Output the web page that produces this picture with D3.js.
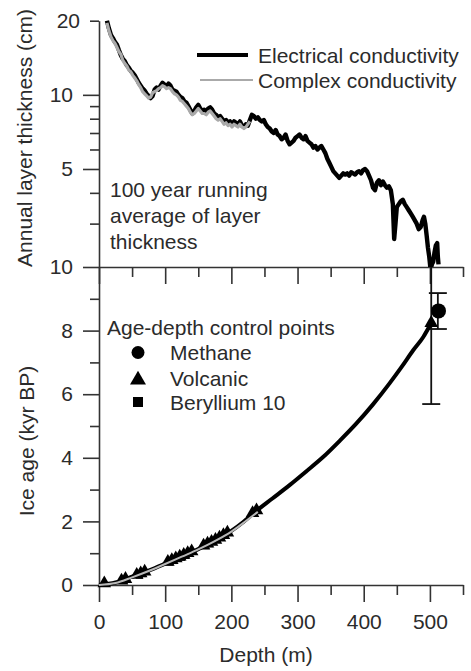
<!DOCTYPE html>
<html>
<head>
<meta charset="utf-8">
<script src="https://cdn.jsdelivr.net/npm/d3@7"></script>
<style>
    body { margin: 0; background: #fff; }
    text { font-family: Arial, "Liberation Sans", sans-serif; fill: #2b2b2b; }
</style>
</head>
<body>
<svg id="main-svg" width="471" height="671"></svg>
<script>
// 100 year running average of layer thickness, [depth m, thickness cm]
let EC_THICKNESS = [
    [12, 20], [15, 18.6], [18, 17.5], [21, 17], [24, 16.4], [27, 16], [30, 15.2], [33, 14.5],
    [36, 14], [39, 13.7], [42, 13.2], [45, 12.9], [48, 12.5], [51, 12.3], [54, 12], [57, 11.6],
    [60, 11.2], [63, 10.9], [66, 10.6], [69, 10.4], [72, 10.1], [75, 9.9], [78, 9.7], [81, 9.9],
    [84, 10.5], [87, 10.7], [90, 10.5], [93, 10.9], [96, 11.2], [99, 11], [102, 10.8], [105, 11.1],
    [108, 10.9], [111, 10.5], [114, 10.4], [117, 10.3], [120, 10], [123, 9.8], [126, 9.7], [129, 9.4],
    [132, 9.3], [135, 9.0], [138, 8.7], [141, 8.4], [144, 8.6], [147, 8.9], [150, 9.1], [153, 8.8],
    [156, 8.6], [159, 8.7], [162, 8.5], [165, 8.8], [168, 8.9], [171, 8.7], [174, 8.4], [177, 8.3],
    [180, 8.1], [183, 8.2], [186, 8.0], [189, 7.8], [192, 7.9], [195, 7.7], [198, 7.8], [201, 7.6],
    [204, 7.8], [207, 7.7], [210, 7.6], [213, 7.8], [216, 7.5], [219, 7.4], [222, 7.6], [225, 7.5],
    [228, 7.9], [231, 8.3], [234, 8.2], [237, 8.0], [240, 8.1], [243, 7.9], [246, 7.8], [249, 7.9],
    [252, 7.6], [255, 7.4], [258, 7.3], [261, 7.1], [264, 7.0], [267, 7.2], [270, 6.9], [273, 6.8],
    [276, 6.6], [279, 6.7], [282, 6.9], [285, 6.5], [288, 6.3], [291, 6.4], [294, 6.5], [297, 6.7],
    [300, 6.8], [303, 6.9], [306, 6.7], [309, 6.6], [312, 6.8], [315, 6.5], [318, 6.4], [321, 6.3],
    [324, 6.1], [327, 6.2], [330, 6.0], [333, 6.1], [336, 6.2], [339, 6.0], [342, 5.8], [345, 5.5],
    [348, 5.3], [351, 5.1], [354, 4.9], [357, 4.8], [360, 4.7], [363, 4.6], [366, 4.7], [369, 4.8],
    [372, 4.75], [375, 4.8], [378, 4.7], [381, 4.85], [384, 4.8], [387, 4.75], [390, 4.85], [393, 4.9],
    [396, 4.8], [399, 4.95], [402, 5.0], [405, 4.9], [408, 4.7], [411, 4.5], [414, 4.2], [417, 4.1],
    [420, 4.4], [423, 4.5], [426, 4.3], [429, 4.45], [432, 4.3], [435, 4.2], [438, 4.25], [441, 4.1],
    [444, 3.6], [446, 2.6], [448, 3.0], [450, 3.5], [453, 3.6], [456, 3.7], [459, 3.75], [462, 3.6],
    [465, 3.5], [468, 3.4], [471, 3.3], [474, 3.2], [477, 3.1], [480, 3.0], [483, 2.85], [486, 2.9],
    [489, 3.1], [491, 3.2], [493, 3.0], [495, 2.7], [497, 2.4], [499, 2.2], [501, 1.95], [503, 2.05],
    [505, 2.1], [507, 2.3], [509, 2.45], [511, 2.5], [512, 2.2], [513, 2.05]
];

let CC_THICKNESS = [
    [12, 19.6], [15, 18.2], [18, 17.2], [21, 16.6], [24, 16.2], [27, 15.6], [30, 15.0], [33, 14.6],
    [36, 13.8], [39, 13.4], [42, 13.1], [45, 12.6], [48, 12.4], [51, 12.0], [54, 11.7], [57, 11.4],
    [60, 11.0], [63, 10.7], [66, 10.3], [69, 10.1], [72, 9.9], [75, 9.7], [78, 9.8], [81, 10.2],
    [84, 10.3], [87, 10.4], [90, 10.6], [93, 10.7], [96, 10.9], [99, 10.8], [102, 10.6], [105, 10.7],
    [108, 10.6], [111, 10.3], [114, 10.1], [117, 10.0], [120, 9.8], [123, 9.5], [126, 9.4], [129, 9.2],
    [132, 9.0], [135, 8.8], [138, 8.5], [141, 8.3], [144, 8.4], [147, 8.6], [150, 8.8], [153, 8.6],
    [156, 8.4], [159, 8.4], [162, 8.3], [165, 8.5], [168, 8.6], [171, 8.4], [174, 8.2], [177, 8.0],
    [180, 7.9], [183, 8.0], [186, 7.8], [189, 7.6], [192, 7.7], [195, 7.5], [198, 7.6], [201, 7.4],
    [204, 7.6], [207, 7.5], [210, 7.4], [213, 7.6], [216, 7.4], [219, 7.3], [222, 7.4], [225, 7.6],
    [228, 7.8]
];

// age-depth curves, [depth m, age kyr BP]
let EC_AGE = [
    [0, 0], [25, 0.08], [50, 0.26], [75, 0.45], [100, 0.67], [125, 0.9], [150, 1.13], [175, 1.39],
    [200, 1.7], [218, 1.98], [236, 2.3], [262, 2.72], [288, 3.14], [313, 3.57], [339, 4.03],
    [364, 4.54], [389, 5.08], [414, 5.68], [439, 6.34], [457, 6.85], [475, 7.39], [490, 7.8], [502, 8.24]
];
let CC_AGE = [
    [0, 0], [25, 0.06], [50, 0.24], [75, 0.44], [100, 0.66], [125, 0.89], [150, 1.12], [175, 1.38],
    [200, 1.68], [220, 1.98], [240, 2.3]
];

// control points
let VOLCANIC = [
    [8, 0.05], [34, 0.14], [40, 0.19], [57, 0.32], [63, 0.37], [69, 0.42], [104, 0.73], [110, 0.78],
    [116, 0.84], [122, 0.89], [128, 0.95], [134, 1.0], [140, 1.06], [158, 1.24], [164, 1.3],
    [170, 1.36], [176, 1.42], [182, 1.49], [188, 1.57], [194, 1.65], [232, 2.26], [238, 2.35], [502, 8.24]
];
let VOLCANIC_ERROR = [[502, 5.69, 10]];   // depth, low, high
let BERYLLIUM = [
    [38, 0.15], [61, 0.31], [66, 0.36], [107, 0.72], [113, 0.77], [125, 0.87], [131, 0.93],
    [161, 1.24], [167, 1.3], [179, 1.43], [185, 1.5], [191, 1.58], [235, 2.27]
];
let METHANE = [[513, 8.62]];
let METHANE_ERROR = [[512, 8.05, 9.18]];

let DEPTH_MAJOR = [0, 100, 200, 300, 400, 500];
let DEPTH_MINOR = [50, 150, 250, 350, 450, 550];
let THICK_MAJOR = [10, 5];
let THICK_MINOR = [9, 8, 7, 6, 4, 3];
let AGE_MAJOR = [0, 2, 4, 6, 8, 10];
let AGE_MINOR = [1, 3, 5, 7, 9];

let AXIS_COLOR = '#333';
let FONT_SIZE = 21;

let svg = d3.select('#main-svg');

let x = d3.scaleLinear().domain([0, 550]).range([99, 463]);
let yTop = d3.scaleLog().domain([2, 20]).range([267, 20.7]);
let yBot = d3.scaleLinear().domain([0, 10]).range([585, 267]);

// clip for the top panel
svg.append('clipPath').attr('id', 'clip-top')
    .append('rect').attr('x', 99).attr('y', 0).attr('width', 370).attr('height', 267);

function styleAxis(g, labels) {
    g.selectAll('line').attr('stroke', AXIS_COLOR).attr('stroke-width', 1.6);
    g.selectAll('.domain').attr('stroke', AXIS_COLOR).attr('stroke-width', 1.6);
    g.selectAll('text').attr('font-size', FONT_SIZE).attr('fill', '#2b2b2b');
    if (!labels) g.selectAll('text').remove();
}

// top panel axes
svg.append('g').attr('transform', 'translate(99,0)')
    .call(d3.axisLeft(yTop).tickValues(THICK_MAJOR).tickSize(16).tickSizeOuter(0).tickPadding(10).tickFormat(d3.format('d')))
    .call(g => styleAxis(g, true));
svg.append('g').attr('transform', 'translate(99,0)')
    .call(d3.axisLeft(yTop).tickValues([20]).tickSize(9).tickSizeOuter(0).tickPadding(10).tickFormat(d3.format('d')))
    .call(g => g.select('.domain').remove())
    .call(g => styleAxis(g, true));
svg.append('g').attr('transform', 'translate(99,0)')
    .call(d3.axisLeft(yTop).tickValues(THICK_MINOR).tickSize(9))
    .call(g => g.select('.domain').remove())
    .call(g => styleAxis(g, false));
svg.append('g').attr('transform', 'translate(0,267)')
    .call(d3.axisBottom(x).tickValues(DEPTH_MAJOR).tickSize(17).tickSizeOuter(0))
    .call(g => styleAxis(g, false));
svg.append('g').attr('transform', 'translate(0,267)')
    .call(d3.axisBottom(x).tickValues(DEPTH_MINOR).tickSize(10))
    .call(g => g.select('.domain').remove())
    .call(g => styleAxis(g, false));

// bottom panel axes
svg.append('g').attr('transform', 'translate(99,0)')
    .call(d3.axisLeft(yBot).tickValues(AGE_MAJOR).tickSize(16).tickSizeOuter(0).tickPadding(10).tickFormat(d3.format('d')))
    .call(g => styleAxis(g, true));
svg.append('g').attr('transform', 'translate(99,0)')
    .call(d3.axisLeft(yBot).tickValues(AGE_MINOR).tickSize(9))
    .call(g => g.select('.domain').remove())
    .call(g => styleAxis(g, false));
svg.append('g').attr('transform', 'translate(0,585)')
    .call(d3.axisBottom(x).tickValues(DEPTH_MAJOR).tickSize(17).tickSizeOuter(0).tickPadding(12).tickFormat(d3.format('d')))
    .call(g => styleAxis(g, true));
svg.append('g').attr('transform', 'translate(0,585)')
    .call(d3.axisBottom(x).tickValues(DEPTH_MINOR).tickSize(10))
    .call(g => g.select('.domain').remove())
    .call(g => styleAxis(g, false));

// axis titles
svg.append('text').attr('transform', 'translate(32,138) rotate(-90)')
    .attr('text-anchor', 'middle').attr('font-size', FONT_SIZE).text('Annual layer thickness (cm)');
svg.append('text').attr('transform', 'translate(34,441) rotate(-90)')
    .attr('text-anchor', 'middle').attr('font-size', FONT_SIZE).text('Ice age (kyr BP)');
svg.append('text').attr('x', 266).attr('y', 662)
    .attr('text-anchor', 'middle').attr('font-size', FONT_SIZE).text('Depth (m)');

// top panel lines
let topLine = d3.line().x(d => x(d[0])).y(d => yTop(d[1]));
let topPanel = svg.append('g').attr('clip-path', 'url(#clip-top)');
topPanel.append('path').datum(EC_THICKNESS).attr('d', topLine)
    .attr('fill', 'none').attr('stroke', '#000').attr('stroke-width', 4.4).attr('stroke-linejoin', 'round');
topPanel.append('path').datum(CC_THICKNESS).attr('d', topLine)
    .attr('fill', 'none').attr('stroke', '#a9a9a9').attr('stroke-width', 3.2).attr('stroke-linejoin', 'round');

// bottom panel: error bars
let errors = VOLCANIC_ERROR.concat(METHANE_ERROR);
errors.forEach(e => {
    let cx = x(e[0]);
    svg.append('line').attr('x1', cx).attr('x2', cx).attr('y1', yBot(e[1])).attr('y2', yBot(e[2]))
        .attr('stroke', '#111').attr('stroke-width', 1.8);
    svg.append('line').attr('x1', cx - 9).attr('x2', cx + 9).attr('y1', yBot(e[1])).attr('y2', yBot(e[1]))
        .attr('stroke', '#111').attr('stroke-width', 1.8);
    if (e[2] < 10) {
        svg.append('line').attr('x1', cx - 9).attr('x2', cx + 9).attr('y1', yBot(e[2])).attr('y2', yBot(e[2]))
            .attr('stroke', '#111').attr('stroke-width', 1.8);
    }
});

// bottom panel: age curves
let ageLine = d3.line().x(d => x(d[0])).y(d => yBot(d[1])).curve(d3.curveMonotoneX);
svg.append('path').datum(EC_AGE).attr('d', ageLine)
    .attr('fill', 'none').attr('stroke', '#000').attr('stroke-width', 4);

// control point markers
let triangle = d3.symbol().type(d3.symbolTriangle).size(80);
let square = d3.symbol().type(d3.symbolSquare).size(50);
svg.selectAll('path.volcanic').data(VOLCANIC).enter().append('path')
    .attr('class', 'volcanic')
    .attr('d', triangle)
    .attr('transform', d => `translate(${x(d[0])},${yBot(d[1])})`)
    .attr('fill', '#000');
svg.selectAll('path.beryllium').data(BERYLLIUM).enter().append('path')
    .attr('class', 'beryllium')
    .attr('d', square)
    .attr('transform', d => `translate(${x(d[0])},${yBot(d[1])})`)
    .attr('fill', '#000');
svg.selectAll('circle.methane').data(METHANE).enter().append('circle')
    .attr('class', 'methane')
    .attr('cx', d => x(d[0])).attr('cy', d => yBot(d[1])).attr('r', 7.5)
    .attr('fill', '#000');

svg.append('path').datum(CC_AGE).attr('d', ageLine)
    .attr('fill', 'none').attr('stroke', '#b8b8b8').attr('stroke-width', 2);

// legend of the top panel
svg.append('line').attr('x1', 197).attr('x2', 248).attr('y1', 55).attr('y2', 55)
    .attr('stroke', '#000').attr('stroke-width', 4);
svg.append('line').attr('x1', 200).attr('x2', 253).attr('y1', 80).attr('y2', 80)
    .attr('stroke', '#aaa').attr('stroke-width', 2);
svg.append('text').attr('x', 258).attr('y', 62.5).attr('font-size', FONT_SIZE).text('Electrical conductivity');
svg.append('text').attr('x', 258).attr('y', 88).attr('font-size', FONT_SIZE).text('Complex conductivity');

let note = ['100 year running', 'average of layer', 'thickness'];
note.forEach((t, i) => {
    svg.append('text').attr('x', 110).attr('y', 196.5 + i * 26).attr('font-size', FONT_SIZE).text(t);
});

// legend of the bottom panel
svg.append('text').attr('x', 107).attr('y', 335).attr('font-size', FONT_SIZE).text('Age-depth control points');
svg.append('circle').attr('cx', 138).attr('cy', 352.5).attr('r', 6.5).attr('fill', '#000');
svg.append('path').attr('d', d3.symbol().type(d3.symbolTriangle).size(110))
    .attr('transform', 'translate(138,380)').attr('fill', '#000');
svg.append('path').attr('d', d3.symbol().type(d3.symbolSquare).size(100))
    .attr('transform', 'translate(138,402)').attr('fill', '#000');
svg.append('text').attr('x', 170).attr('y', 360).attr('font-size', FONT_SIZE).text('Methane');
svg.append('text').attr('x', 170).attr('y', 386).attr('font-size', FONT_SIZE).text('Volcanic');
svg.append('text').attr('x', 170).attr('y', 410).attr('font-size', FONT_SIZE).text('Beryllium 10');
</script>
</body>
</html>
